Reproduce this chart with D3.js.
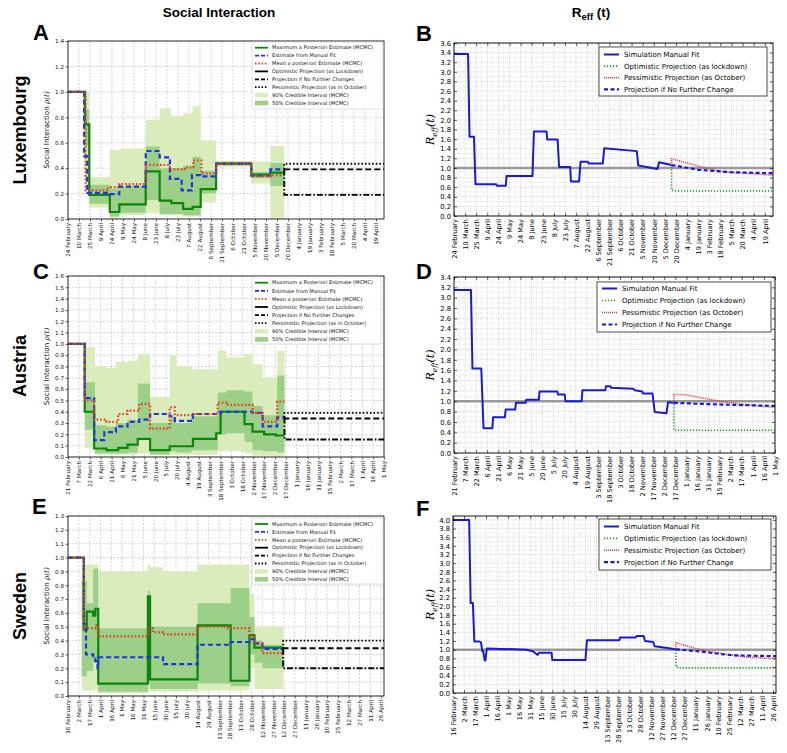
<!DOCTYPE html>
<html>
<head>
<meta charset="utf-8">
<script src="https://cdnjs.cloudflare.com/ajax/libs/d3/7.8.5/d3.min.js"></script>
<style>
body { margin:0; background:#fff; }
text { font-family: "DejaVu Sans", sans-serif; }
</style>
</head>
<body>
<svg id="fig" width="787" height="753"></svg>
<script>
// ---------------- data ----------------
var rowLabels = ["Luxembourg", "Austria", "Sweden"];
var rhoLegendLabels = ["Maximum a Posteriori Estimate (MCMC)", "Estimate from Manual Fit",
  "Mean a posteriori Estimate (MCMC)", "Optimistic Projection (as Lockdown)",
  "Projection if No Further Changes", "Pessimistic Projection (as in October)",
  "90% Credible Interval (MCMC)", "50% Credible Interval (MCMC)"];
var reffLegendLabels = ["Simulation Manual Fit", "Optimistic Projection (as lockdown)",
  "Pessimistic Projection (as October)", "Projection if No Further Change"];

// Luxembourg
var luxMAP = [["2020-02-24",1.0],["2020-03-18",0.745],["2020-03-24",0.19],["2020-04-21",0.055],["2020-05-04",0.115],
  ["2020-06-09",0.375],["2020-06-28",0.145],["2020-07-14",0.125],["2020-07-30",0.08],["2020-08-12",0.095],
  ["2020-08-23",0.235],["2020-09-13",0.435],["2020-10-31",0.35],["2020-11-26",0.365],["2020-12-15",0.365]];
var luxFit = [["2020-02-24",1.0],["2020-03-17",0.495],["2020-03-21",0.205],["2020-04-21",0.195],["2020-05-04",0.255],
  ["2020-06-09",0.535],["2020-06-28",0.485],["2020-07-12",0.315],["2020-07-28",0.225],["2020-08-11",0.345],
  ["2020-08-23",0.335],["2020-09-13",0.435],["2020-10-31",0.34],["2020-11-26",0.39],["2020-12-15",0.39]];
var luxMean = [["2020-02-24",1.0],["2020-03-19",0.225],["2020-04-19",0.25],["2020-05-04",0.275],["2020-06-09",0.425],
  ["2020-07-12",0.39],["2020-08-01",0.405],["2020-08-13",0.46],["2020-08-24",0.36],["2020-09-13",0.435],
  ["2020-10-31",0.335],["2020-11-26",0.345],["2020-12-15",0.345]];
var luxCI90 = [["2020-03-17",0.30,1.0],["2020-03-24",0.09,0.33],["2020-04-21",0.0,0.545],["2020-05-04",0.03,0.555],
  ["2020-06-09",0.05,0.78],["2020-06-28",0.03,0.87],["2020-07-14",0.03,0.81],["2020-07-30",0.02,0.83],
  ["2020-08-12",0.02,0.89],["2020-08-23",0.13,0.62],["2020-09-13",0.41,0.455],["2020-10-31",0.28,0.45],
  ["2020-11-26",0.0,0.575],["2020-12-15",0.0,0.575]];
var luxCI50 = [["2020-03-17",0.57,0.86],["2020-03-24",0.12,0.27],["2020-04-21",0.02,0.24],["2020-05-04",0.05,0.26],
  ["2020-06-09",0.15,0.57],["2020-06-28",0.04,0.40],["2020-07-14",0.04,0.40],["2020-07-30",0.03,0.42],
  ["2020-08-12",0.03,0.49],["2020-08-23",0.20,0.38],["2020-09-13",0.42,0.45],["2020-10-31",0.32,0.37],
  ["2020-11-26",0.26,0.44],["2020-12-15",0.26,0.44]];
var luxProj = [0.435, 0.39, 0.19]; // pessimistic, no change, optimistic
var luxReff = [["2020-02-24",3.37],["2020-03-14",3.37],["2020-03-16",1.65],["2020-03-22",1.65],["2020-03-24",0.66],
  ["2020-04-21",0.66],["2020-04-22",0.63],["2020-05-04",0.63],["2020-05-05",0.83],["2020-06-09",0.83],
  ["2020-06-11",1.76],["2020-06-28",1.76],["2020-06-29",1.59],["2020-07-13",1.59],["2020-07-15",1.02],
  ["2020-07-30",1.02],["2020-07-31",0.72],["2020-08-11",0.72],["2020-08-13",1.13],["2020-08-23",1.13],
  ["2020-08-24",1.09],["2020-09-12",1.09],["2020-09-14",1.41],["2020-10-28",1.35],["2020-10-30",1.05],
  ["2020-11-25",0.98],["2020-11-27",1.12],["2020-12-14",1.06]];
var luxReffNoChange = [["2020-12-14",1.06],["2021-01-20",0.96],["2021-03-05",0.91],["2021-04-30",0.89]];
var luxReffPess = [["2020-12-14",1.06],["2020-12-14",1.19],["2021-01-28",1.0],["2021-02-21",0.92],["2021-04-30",0.85]];
var luxReffOpt = [["2020-12-14",1.03],["2020-12-14",0.54],["2020-12-20",0.52],["2021-04-30",0.52]];

// Austria
var ausMAP = [["2020-02-21",1.0],["2020-03-15",0.40],["2020-03-28",0.075],["2020-04-14",0.06],["2020-04-30",0.08],
  ["2020-05-13",0.11],["2020-05-27",0.16],["2020-06-13",0.06],["2020-07-10",0.095],["2020-08-11",0.16],
  ["2020-09-12",0.21],["2020-09-18",0.40],["2020-10-21",0.29],["2020-11-01",0.225],["2020-11-17",0.20],
  ["2020-12-03",0.19],["2020-12-15",0.19]];
var ausFit = [["2020-02-21",1.0],["2020-03-15",0.52],["2020-03-28",0.15],["2020-04-11",0.22],["2020-04-27",0.27],
  ["2020-05-13",0.31],["2020-05-29",0.33],["2020-06-13",0.38],["2020-07-10",0.36],["2020-07-17",0.32],
  ["2020-08-11",0.38],["2020-09-18",0.40],["2020-11-01",0.39],["2020-11-15",0.27],["2020-12-05",0.35],
  ["2020-12-15",0.35]];
var ausMean = [["2020-02-21",1.0],["2020-03-15",0.50],["2020-03-28",0.33],["2020-04-14",0.31],["2020-04-30",0.38],
  ["2020-05-13",0.41],["2020-05-29",0.47],["2020-06-13",0.25],["2020-07-10",0.44],["2020-07-17",0.37],
  ["2020-08-11",0.38],["2020-09-14",0.48],["2020-09-26",0.46],["2020-11-01",0.39],["2020-11-15",0.31],
  ["2020-12-05",0.49],["2020-12-15",0.49]];
var ausCI90 = [["2020-03-15",0.08,0.97],["2020-03-29",0.02,0.80],["2020-04-14",0.02,0.785],["2020-04-27",0.02,0.84],
  ["2020-05-13",0.02,0.85],["2020-05-27",0.03,0.91],["2020-06-13",0.04,0.53],["2020-07-10",0.02,0.90],
  ["2020-07-19",0.02,0.80],["2020-08-09",0.02,0.775],["2020-09-14",0.05,0.94],["2020-09-26",0.05,0.88],
  ["2020-10-21",0.03,0.91],["2020-11-01",0.01,0.82],["2020-11-15",0.01,0.70],["2020-12-05",0.01,0.94],
  ["2020-12-15",0.01,0.94]];
var ausCI50 = [["2020-03-15",0.24,0.66],["2020-03-29",0.03,0.28],["2020-04-14",0.03,0.27],["2020-04-27",0.03,0.30],
  ["2020-05-13",0.04,0.33],["2020-05-27",0.17,0.65],["2020-06-13",0.02,0.30],["2020-07-10",0.05,0.34],
  ["2020-07-19",0.04,0.30],["2020-08-09",0.06,0.36],["2020-09-14",0.20,0.57],["2020-09-26",0.21,0.59],
  ["2020-10-21",0.13,0.58],["2020-11-01",0.06,0.45],["2020-11-15",0.05,0.37],["2020-12-05",0.04,0.72],
  ["2020-12-15",0.04,0.72]];
var ausProj = [0.39, 0.34, 0.155];
var ausReff = [["2020-02-21",3.15],["2020-03-15",3.15],["2020-03-17",1.63],["2020-03-29",1.63],["2020-04-01",0.48],
  ["2020-04-13",0.48],["2020-04-14",0.69],["2020-04-30",0.69],["2020-05-01",0.84],["2020-05-14",0.84],
  ["2020-05-15",0.97],["2020-05-28",0.97],["2020-05-29",1.03],["2020-06-15",1.03],["2020-06-16",1.19],
  ["2020-07-10",1.19],["2020-07-11",1.13],["2020-07-20",1.13],["2020-07-21",1.00],["2020-08-12",1.00],
  ["2020-08-13",1.21],["2020-09-13",1.21],["2020-09-14",1.29],["2020-09-20",1.29],["2020-09-21",1.26],
  ["2020-10-21",1.24],["2020-10-23",1.21],["2020-11-02",1.19],["2020-11-03",1.15],["2020-11-16",1.15],
  ["2020-11-19",0.79],["2020-12-05",0.77],["2020-12-07",0.98],["2020-12-15",0.97]];
var ausReffNoChange = [["2020-12-15",0.97],["2021-01-19",0.95],["2021-03-05",0.93],["2021-05-01",0.91]];
var ausReffPess = [["2020-12-15",0.97],["2020-12-15",1.13],["2020-12-28",1.13],["2021-02-15",1.0],["2021-03-19",0.94],["2021-05-01",0.88]];
var ausReffOpt = [["2020-12-15",1.0],["2020-12-15",0.44],["2021-05-01",0.44]];

// Sweden
var sweMAP = [["2020-02-16",1.0],["2020-03-09",0.48],["2020-03-13",0.61],["2020-03-22",0.58],["2020-03-25",0.63],
  ["2020-03-29",0.09],["2020-06-06",0.72],["2020-06-09",0.12],["2020-08-14",0.51],["2020-09-29",0.11],
  ["2020-10-25",0.44],["2020-11-01",0.35],["2020-12-11",0.35]];
var sweFit = [["2020-02-16",1.0],["2020-03-09",0.52],["2020-03-12",0.30],["2020-03-22",0.27],["2020-03-25",0.25],
  ["2020-03-28",0.20],["2020-03-29",0.28],["2020-06-27",0.23],["2020-08-14",0.37],["2020-09-29",0.39],
  ["2020-10-25",0.41],["2020-11-01",0.38],["2020-11-12",0.34],["2020-12-11",0.34]];
var sweMean = [["2020-02-16",1.0],["2020-03-09",0.49],["2020-03-25",0.51],["2020-03-29",0.43],["2020-06-06",0.49],
  ["2020-06-13",0.46],["2020-06-27",0.445],["2020-08-14",0.50],["2020-09-25",0.49],["2020-10-25",0.43],
  ["2020-11-01",0.38],["2020-11-12",0.31],["2020-12-11",0.31]];
var sweCI90 = [["2020-03-06",0.04,0.95],["2020-03-29",0.02,0.90],["2020-06-06",0.03,0.95],["2020-06-09",0.03,0.93],
  ["2020-06-27",0.03,0.90],["2020-08-14",0.04,0.95],["2020-10-25",0.20,0.74],["2020-11-01",0.05,0.50],
  ["2020-12-11",0.05,0.50]];
var sweCI50 = [["2020-03-06",0.14,0.83],["2020-03-13",0.18,0.67],["2020-03-22",0.25,0.92],["2020-03-29",0.03,0.49],
  ["2020-06-06",0.10,0.76],["2020-06-09",0.05,0.50],["2020-08-14",0.09,0.67],["2020-09-29",0.07,0.78],
  ["2020-10-25",0.30,0.57],["2020-11-01",0.24,0.40],["2020-11-12",0.20,0.37],["2020-12-11",0.20,0.37]];
var sweProj = [0.40, 0.345, 0.20];
var sweReff = [["2020-02-16",4.0],["2020-03-09",4.0],["2020-03-11",2.08],["2020-03-14",2.08],["2020-03-16",1.19],
  ["2020-03-23",1.19],["2020-03-25",1.17],["2020-03-27",0.96],["2020-03-28",0.97],["2020-03-30",0.76],
  ["2020-03-31",0.75],["2020-04-02",1.03],["2020-05-26",1.0],["2020-06-04",0.96],["2020-06-10",0.88],
  ["2020-06-12",0.93],["2020-06-29",0.93],["2020-06-30",0.76],["2020-08-14",0.76],["2020-08-16",1.22],
  ["2020-09-29",1.22],["2020-09-30",1.28],["2020-10-21",1.28],["2020-10-23",1.32],["2020-11-01",1.32],
  ["2020-11-03",1.20],["2020-11-14",1.18],["2020-11-16",1.08],["2020-12-15",1.01]];
var sweReffNoChange = [["2020-12-15",1.01],["2021-01-17",0.96],["2021-02-14",0.90],["2021-03-04",0.87],["2021-04-30",0.85]];
var sweReffPess = [["2020-12-15",1.01],["2020-12-15",1.16],["2021-01-17",1.0],["2021-02-23",0.89],["2021-03-21",0.83],["2021-04-30",0.79]];
var sweReffOpt = [["2020-12-15",1.0],["2020-12-15",0.60],["2020-12-22",0.58],["2021-04-30",0.58]];

// ---------------- drawing ----------------
var parse = d3.timeParse("%Y-%m-%d");
var fmt = d3.timeFormat("%-d %B");
var svg = d3.select("#fig");

function tickDates(start, n) {
    return d3.range(n).map(function (i) { return d3.timeDay.offset(parse(start), 15 * i); });
}

function clip(p) {
    svg.append("clipPath").attr("id", "clip" + p.id).append("rect")
        .attr("x", p.x0).attr("y", p.y0).attr("width", p.x1 - p.x0).attr("height", p.y1 - p.y0);
    return "url(#clip" + p.id + ")";
}

function grid(g, x, y, p, xt, yt, col, dash) {
    g.append("g").selectAll("line").data(xt).join("line")
        .attr("x1", function (d) { return x(d); }).attr("x2", function (d) { return x(d); })
        .attr("y1", p.y0).attr("y2", p.y1)
        .attr("stroke", col).attr("stroke-width", 0.6).attr("stroke-dasharray", dash);
    g.append("g").selectAll("line").data(yt).join("line")
        .attr("y1", function (d) { return y(d); }).attr("y2", function (d) { return y(d); })
        .attr("x1", p.x0).attr("x2", p.x1)
        .attr("stroke", col).attr("stroke-width", 0.6).attr("stroke-dasharray", dash);
}

function drawRho(p) {
    var x = d3.scaleTime().domain([parse(p.start), parse(p.end)]).range([p.x0, p.x1]);
    var y = d3.scaleLinear().domain([0, p.yMax]).range([p.y1, p.y0]);
    var g = svg.append("g");
    var xt = tickDates(p.start, p.nTicks);
    var yt = d3.range(0, Math.round(p.yMax / p.yStep) + 1).map(function (i) { return +(i * p.yStep).toFixed(2); });

    grid(g, x, y, p, xt, yt, "#b8b8b8", "2,1.5");

    var plot = g.append("g").attr("clip-path", clip(p));
    var band = d3.area().curve(d3.curveStepAfter)
        .x(function (d) { return x(parse(d[0])); })
        .y0(function (d) { return y(d[1]); })
        .y1(function (d) { return y(d[2]); });
    plot.append("path").attr("d", band(p.ci90)).attr("fill", "#dbecbc");
    plot.append("path").attr("d", band(p.ci50)).attr("fill", "#9ccf88");

    var step = d3.line().curve(d3.curveStepAfter)
        .x(function (d) { return x(parse(d[0])); })
        .y(function (d) { return y(d[1]); });
    plot.append("path").attr("d", step(p.map)).attr("fill", "none")
        .attr("stroke", "#0b850b").attr("stroke-width", 2.2);
    plot.append("path").attr("d", step(p.fit)).attr("fill", "none")
        .attr("stroke", "#1d35e0").attr("stroke-width", 2.2).attr("stroke-dasharray", "5,3");
    plot.append("path").attr("d", step(p.mean)).attr("fill", "none")
        .attr("stroke", "#e5401e").attr("stroke-width", 2.2).attr("stroke-dasharray", "1.6,2");

    // projections start from the last fitted value
    var cur = p.fit[p.fit.length - 1][1];
    var lin = d3.line().x(function (d) { return x(parse(d[0])); }).y(function (d) { return y(d[1]); });
    var dashes = ["1.6,2", "6,3", "6,2,1.6,2"];
    p.proj.forEach(function (lvl, i) {
        var pts = [[p.projStart, cur], [p.projStart, lvl], [p.end, lvl]];
        plot.append("path").attr("d", lin(pts)).attr("fill", "none")
            .attr("stroke", "#000").attr("stroke-width", 1.9).attr("stroke-dasharray", dashes[i]);
    });

    // axes
    var xa = g.append("g").attr("transform", "translate(0," + p.y1 + ")")
        .call(d3.axisBottom(x).tickValues(xt).tickFormat(fmt).tickSize(2.5));
    xa.select(".domain").remove();
    xa.selectAll("line").attr("stroke-width", 0.6);
    xa.selectAll("text").attr("transform", "rotate(-90)").attr("text-anchor", "end")
        .attr("x", -4).attr("y", 0).attr("dy", "0.33em").attr("font-size", 5.6).attr("fill", "#111");
    var ya = g.append("g").attr("transform", "translate(" + p.x0 + ",0)")
        .call(d3.axisLeft(y).tickValues(yt).tickFormat(d3.format(".1f")).tickSize(2.5).tickPadding(1.5));
    ya.select(".domain").remove();
    ya.selectAll("line").attr("stroke-width", 0.6);
    ya.selectAll("text").attr("font-size", 5.6).attr("fill", "#111");
    g.append("rect").attr("x", p.x0).attr("y", p.y0).attr("width", p.x1 - p.x0).attr("height", p.y1 - p.y0)
        .attr("fill", "none").attr("stroke", "#000").attr("stroke-width", 0.8);

    var yl = g.append("text").attr("transform", "translate(49," + ((p.y0 + p.y1) / 2) + ") rotate(-90)")
        .attr("text-anchor", "middle").attr("font-size", 7.2).attr("fill", "#111");
    yl.append("tspan").text("Social Interaction ");
    yl.append("tspan").attr("font-style", "italic").style("font-family", "DejaVu Serif").text("\u03c1(t)");

    // legend
    var L = p.leg;
    var lg = g.append("g");
    lg.append("rect").attr("x", L.x).attr("y", L.y).attr("width", L.w).attr("height", L.h).attr("rx", 1.5)
        .attr("fill", "#fff").attr("fill-opacity", 0.85).attr("stroke", "#cfcfcf").attr("stroke-width", 0.6);
    var sty = [
        {c: "#0b850b", d: null}, {c: "#1d35e0", d: "4,2"}, {c: "#e5401e", d: "1.5,1.8"},
        {c: "#000", d: null}, {c: "#000", d: "4,2"}, {c: "#000", d: "1.5,1.8"},
        {f: "#dbecbc"}, {f: "#9ccf88"}
    ];
    rhoLegendLabels.forEach(function (lab, i) {
        var cy = L.y + L.first + i * L.dy;
        var s = sty[i];
        if (s.f) {
            lg.append("rect").attr("x", L.x + 3).attr("y", cy - 2.3).attr("width", 13).attr("height", 4.6).attr("fill", s.f);
        } else {
            lg.append("line").attr("x1", L.x + 3).attr("x2", L.x + 16).attr("y1", cy).attr("y2", cy)
                .attr("stroke", s.c).attr("stroke-width", 1.8).attr("stroke-dasharray", s.d);
        }
        lg.append("text").attr("x", L.x + 20).attr("y", cy).attr("dy", "0.35em")
            .attr("font-size", 5.1).attr("fill", "#111").text(lab);
    });
}

function drawReff(p) {
    var x = d3.scaleTime().domain([parse(p.start), parse(p.end)]).range([p.x0, p.x1]);
    var y = d3.scaleLinear().domain([0, p.yMax]).range([p.y1, p.y0]);
    var g = svg.append("g");
    var xt = tickDates(p.start, p.nTicks);
    var yt = d3.range(0, Math.round(p.yTop / 0.2) + 1).map(function (i) { return +(i * 0.2).toFixed(1); });
    var xm = xt.map(function (d) { return d3.timeDay.offset(d, 7.5); }).filter(function (d) { return d < parse(p.end); });
    var ym = yt.map(function (d) { return d + 0.1; }).filter(function (d) { return d < p.yMax; });

    grid(g, x, y, p, xm, ym, "#d6d6d6", "1,1.2");
    grid(g, x, y, p, xt, yt, "#b5b5b5", "1,1.2");

    var plot = g.append("g").attr("clip-path", clip(p));
    var lin = d3.line().x(function (d) { return x(parse(d[0])); }).y(function (d) { return y(d[1]); });
    plot.append("line").attr("x1", p.x0).attr("x2", p.x1).attr("y1", y(1)).attr("y2", y(1))
        .attr("stroke", "#9a9a9a").attr("stroke-width", 2.4);
    plot.append("path").attr("d", lin(p.reff)).attr("fill", "none")
        .attr("stroke", "#1a1ad2").attr("stroke-width", 2).attr("stroke-linejoin", "round");
    plot.append("path").attr("d", lin(p.opt)).attr("fill", "none")
        .attr("stroke", "#1e951e").attr("stroke-width", 1.6).attr("stroke-dasharray", "1.2,1.8");
    plot.append("path").attr("d", lin(p.pess)).attr("fill", "none")
        .attr("stroke", "#e03c3c").attr("stroke-width", 1.6).attr("stroke-dasharray", "1,1");
    plot.append("path").attr("d", lin(p.noChange)).attr("fill", "none")
        .attr("stroke", "#1a1ad2").attr("stroke-width", 2.2).attr("stroke-dasharray", "4,2.5");

    // axes (classic style, ticks inside)
    var xa = g.append("g").attr("transform", "translate(0," + p.y1 + ")")
        .call(d3.axisBottom(x).tickValues(xt).tickFormat(fmt).tickSizeInner(-3).tickSizeOuter(0));
    xa.select(".domain").remove();
    xa.selectAll("line").attr("stroke-width", 0.6);
    xa.selectAll("text").attr("transform", "rotate(-90)").attr("text-anchor", "end")
        .attr("x", -3).attr("y", 0).attr("dy", "0.33em").attr("font-size", 6.6).attr("fill", "#000");
    var xt2 = g.append("g").attr("transform", "translate(0," + p.y0 + ")")
        .call(d3.axisTop(x).tickValues(xt).tickFormat("").tickSizeInner(-3).tickSizeOuter(0));
    xt2.select(".domain").remove();
    xt2.selectAll("line").attr("stroke-width", 0.6);
    var ya = g.append("g").attr("transform", "translate(" + p.x0 + ",0)")
        .call(d3.axisLeft(y).tickValues(yt).tickFormat(d3.format(".1f")).tickSizeInner(-3).tickSizeOuter(0).tickPadding(3));
    ya.select(".domain").remove();
    ya.selectAll("line").attr("stroke-width", 0.6);
    ya.selectAll("text").attr("font-size", 6.8).attr("fill", "#000");
    var yr = g.append("g").attr("transform", "translate(" + p.x1 + ",0)")
        .call(d3.axisRight(y).tickValues(yt).tickFormat("").tickSizeInner(-3).tickSizeOuter(0));
    yr.select(".domain").remove();
    yr.selectAll("line").attr("stroke-width", 0.6);
    g.append("rect").attr("x", p.x0).attr("y", p.y0).attr("width", p.x1 - p.x0).attr("height", p.y1 - p.y0)
        .attr("fill", "none").attr("stroke", "#000").attr("stroke-width", 0.9);

    var yl = g.append("text").attr("transform", "translate(434," + ((p.y0 + p.y1) / 2) + ") rotate(-90)")
        .attr("text-anchor", "middle").attr("font-style", "italic")
        .attr("font-size", 11).attr("fill", "#000");
    yl.append("tspan").style("font-family", "DejaVu Serif").text("R");
    yl.append("tspan").style("font-family", "DejaVu Serif").attr("font-size", 7.5).attr("dy", 2.5).text("eff");
    yl.append("tspan").style("font-family", "DejaVu Serif").attr("dy", -2.5).text("(t)");

    // legend
    var L = p.leg;
    var lg = g.append("g");
    lg.append("rect").attr("x", L.x).attr("y", L.y).attr("width", L.w).attr("height", L.h)
        .attr("fill", "#fff").attr("stroke", "#000").attr("stroke-width", 0.7);
    var sty = [
        {c: "#1a1ad2", d: null, w: 2}, {c: "#1e951e", d: "1.2,1.8", w: 1.6},
        {c: "#e03c3c", d: "1,1", w: 1.6}, {c: "#1a1ad2", d: "4,2.5", w: 2.2}
    ];
    reffLegendLabels.forEach(function (lab, i) {
        var cy = L.y + L.first + i * L.dy;
        lg.append("line").attr("x1", L.x + 5).attr("x2", L.x + 20).attr("y1", cy).attr("y2", cy)
            .attr("stroke", sty[i].c).attr("stroke-width", sty[i].w).attr("stroke-dasharray", sty[i].d);
        lg.append("text").attr("x", L.x + 25).attr("y", cy).attr("dy", "0.35em")
            .attr("font-size", 7).attr("fill", "#000").text(lab);
    });
}

drawRho({id: "A", x0: 68, x1: 384, y0: 41, y1: 219, start: "2020-02-24", end: "2021-04-30", nTicks: 29,
    yMax: 1.4, yStep: 0.2, map: luxMAP, fit: luxFit, mean: luxMean, ci90: luxCI90, ci50: luxCI50,
    projStart: "2020-12-15", proj: luxProj, leg: {x: 252, y: 42, w: 131, h: 67, first: 5.7, dy: 7.9}});
drawRho({id: "C", x0: 68, x1: 384, y0: 276, y1: 457, start: "2020-02-21", end: "2021-05-01", nTicks: 30,
    yMax: 1.6, yStep: 0.1, map: ausMAP, fit: ausFit, mean: ausMean, ci90: ausCI90, ci50: ausCI50,
    projStart: "2020-12-15", proj: ausProj, leg: {x: 252, y: 277, w: 129, h: 67, first: 5.7, dy: 8.1}});
drawRho({id: "E", x0: 68, x1: 384, y0: 516, y1: 696, start: "2020-02-16", end: "2021-04-30", nTicks: 30,
    yMax: 1.3, yStep: 0.1, map: sweMAP, fit: sweFit, mean: sweMean, ci90: sweCI90, ci50: sweCI50,
    projStart: "2020-12-11", proj: sweProj, leg: {x: 252, y: 518, w: 131, h: 66, first: 6, dy: 7.9}});

drawReff({id: "B", x0: 454, x1: 773, y0: 43, y1: 216, start: "2020-02-24", end: "2021-04-30", nTicks: 29,
    yMax: 3.6, yTop: 3.6, reff: luxReff, noChange: luxReffNoChange, pess: luxReffPess, opt: luxReffOpt,
    leg: {x: 599, y: 47, w: 168, h: 49, first: 7.5, dy: 11.6}});
drawReff({id: "D", x0: 454, x1: 775, y0: 277, y1: 453, start: "2020-02-21", end: "2021-05-01", nTicks: 30,
    yMax: 3.4, yTop: 3.4, reff: ausReff, noChange: ausReffNoChange, pess: ausReffPess, opt: ausReffOpt,
    leg: {x: 597, y: 282, w: 174, h: 50, first: 6.5, dy: 12}});
drawReff({id: "F", x0: 453, x1: 776, y0: 516, y1: 693, start: "2020-02-16", end: "2021-04-30", nTicks: 30,
    yMax: 4.09, yTop: 4.0, reff: sweReff, noChange: sweReffNoChange, pess: sweReffPess, opt: sweReffOpt,
    leg: {x: 599, y: 519, w: 172, h: 51, first: 7.5, dy: 11.9}});

// titles, row labels, panel letters
svg.append("text").attr("x", 219).attr("y", 17).attr("text-anchor", "middle")
    .style("font-family", "Liberation Sans").attr("font-weight", "bold").attr("font-size", 13.5).text("Social Interaction");
var rt = svg.append("text").attr("x", 591).attr("y", 17).attr("text-anchor", "middle")
    .style("font-family", "Liberation Sans").attr("font-weight", "bold").attr("font-size", 13.5);
rt.append("tspan").text("R");
rt.append("tspan").attr("font-size", 9.5).attr("dy", 2.5).text("eff");
rt.append("tspan").attr("dy", -2.5).text(" (t)");

[130, 366, 606].forEach(function (cy, i) {
    svg.append("text").attr("transform", "translate(26," + cy + ") rotate(-90)").attr("text-anchor", "middle")
        .style("font-family", "Liberation Sans").attr("font-weight", "bold").attr("font-size", 18).text(rowLabels[i]);
});
[["A", 33, 40], ["B", 416, 41], ["C", 33, 279], ["D", 416, 279], ["E", 32, 514], ["F", 416, 516]].forEach(function (l) {
    svg.append("text").attr("x", l[1]).attr("y", l[2]).style("font-family", "Liberation Sans")
        .attr("font-weight", "bold").attr("font-size", 22).text(l[0]);
});
</script>
</body>
</html>
